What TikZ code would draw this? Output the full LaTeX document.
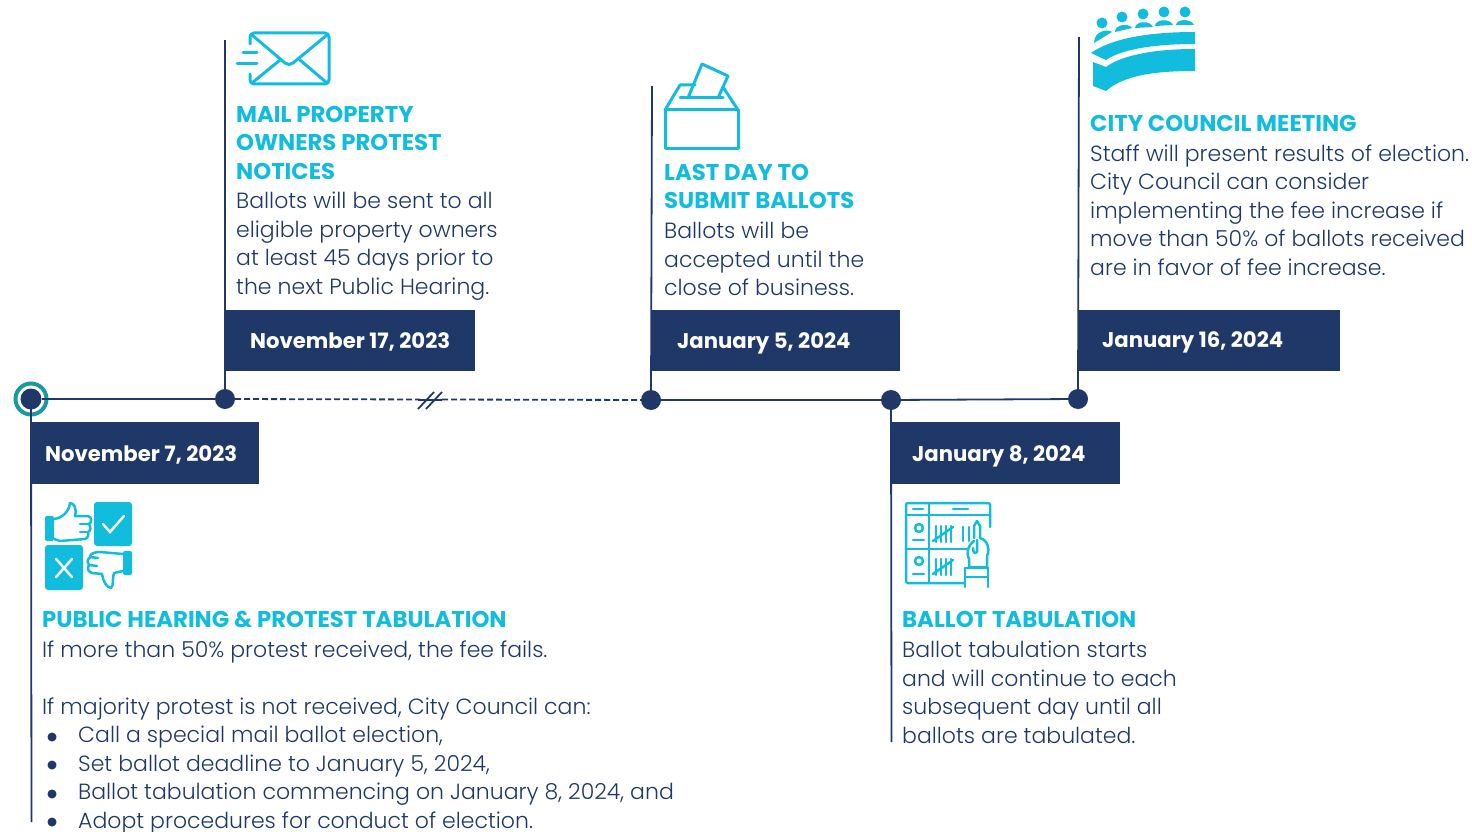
\documentclass[tikz,border=0pt]{standalone}
\usepackage{fontspec}
\usepackage{xcolor}
\setmainfont{Poppins Light}[BoldFont=Poppins Bold]
\newfontfamily\dejavu{DejaVu Sans}
\definecolor{navy}{HTML}{1F3868}
\definecolor{aqua}{HTML}{12BCDC}
\definecolor{ring}{HTML}{1A9A9E}
\tikzset{
	dot/.style={circle,fill=navy,draw=none,minimum size=20pt,inner sep=0pt},
	datebox/.style={fill=navy,draw=none,anchor=north west,inner sep=0pt},
	datetext/.style={anchor=base west,inner sep=0pt,text=white,font=\fontsize{21.2}{24}\selectfont\bfseries},
	headtext/.style={anchor=north west,inner sep=0pt,align=left,text=aqua,font=\fontsize{22.8}{28.4}\selectfont\bfseries},
	bodytext/.style={anchor=north west,inner sep=0pt,align=left,text=navy,font=\fontsize{22}{28.5}\selectfont},
	tline/.style={navy,line width=1.8pt},
	iconline/.style={aqua,line width=3pt,line join=round,line cap=round,fill=none},
	thinicon/.style={aqua,line width=2.5pt,line join=round,line cap=round,fill=none},
}
\newcommand{\bul}{\makebox[36pt][l]{\hspace{5pt}\raisebox{2.5pt}{\dejavu\fontsize{11.5}{12}\selectfont ●}}}
\begin{document}
\begin{tikzpicture}[x=1pt,y=-1pt]
	\useasboundingbox (0,0) rectangle (1472,832);
	% timeline
	\node (d0) at (31,399) [dot,minimum size=21pt] {};
	\node (d1) at (225,399) [dot] {};
	\node (d2) at (651,400) [dot] {};
	\node (d3) at (891,400) [dot] {};
	\node (d4) at (1078,399) [dot] {};
	\node (ring0) at (31,399) [circle,draw=ring,line width=4pt,minimum size=31pt,inner sep=0pt] {};
	\coordinate (t0) at (31.5,822);
	\coordinate (t1) at (225,40);
	\coordinate (t2) at (652,86);
	\coordinate (t3) at (891.5,742);
	\coordinate (t4) at (1079,37);
	\draw[tline] (d0) -- (d1);
	\draw[tline,dash pattern=on 6pt off 3pt] (d1) -- (d2);
	\draw[tline] (d2) -- (d3);
	\draw[tline] (d3) -- (d4);
	\draw[tline] (d0.center) -- (t0);
	\draw[tline] (d1.center) -- (t1);
	\draw[tline] (d2.center) -- (t2);
	\draw[tline] (d3.center) -- (t3);
	\draw[tline] (d4.center) -- (t4);
	% break mark
	\fill[white] (420,394) rectangle (440,406);
	\draw[navy,line width=1.8pt] (418,409) -- (434,392);
	\draw[navy,line width=1.8pt] (426,409) -- (442,392);
	\draw[tline] (418,400) -- (442,400);
	% date boxes
	\node (b0) at (31,422) [datebox,minimum width=228pt,minimum height=62pt] {};
	\node (b1) at (225,310) [datebox,minimum width=250pt,minimum height=61pt] {};
	\node (b2) at (652,310) [datebox,minimum width=248pt,minimum height=61pt] {};
	\node (b3) at (892,422) [datebox,minimum width=228pt,minimum height=62pt] {};
	\node (b4) at (1078,310) [datebox,minimum width=262pt,minimum height=61pt] {};
	\node (dt0) at (45,461) [datetext] {November 7, 2023};
	\node (dt1) at (250,348) [datetext] {November 17, 2023};
	\node (dt2) at (677,348) [datetext] {January 5, 2024};
	\node (dt3) at (912,461) [datetext] {January 8, 2024};
	\node (dt4) at (1102,347) [datetext] {January 16, 2024};
	% texts
	\node (h0) at (42,611) [headtext] {PUBLIC HEARING \& PROTEST TABULATION};
	\node (p0) at (42,640.5) [bodytext] {If more than 50\% protest received, the fee fails.\\[28.5pt]
		If majority protest is not received, City Council can:\\
		\bul Call a special mail ballot election,\\
		\bul Set ballot deadline to January 5, 2024,\\
		\bul Ballot tabulation commencing on January 8, 2024, and\\
		\bul Adopt procedures for conduct of election.};
	\node (h1) at (236,106) [headtext] {MAIL PROPERTY\\OWNERS PROTEST\\NOTICES};
	\node (p1) at (236,192) [bodytext] {Ballots will be sent to all\\eligible property owners\\at least 45 days prior to\\the next Public Hearing.};
	\node (h2) at (664,164) [headtext] {LAST DAY TO\\SUBMIT BALLOTS};
	\node (p2) at (664,222) [bodytext] {Ballots will be\\accepted until the\\close of business.};
	\node (h3) at (902,611) [headtext] {BALLOT TABULATION};
	\node (p3) at (902,641) [bodytext] {Ballot tabulation starts\\and will continue to each\\subsequent day until all\\ballots are tabulated.};
	\node (h4) at (1090,115) [headtext] {CITY COUNCIL MEETING};
	\node (p4) at (1090,144.5) [bodytext] {Staff will present results of election.\\City Council can consider\\implementing the fee increase if\\move than 50\% of ballots received\\are in favor of fee increase.};
	% envelope
	\draw[iconline] (250,44) -- (250,37) arc (180:270:4) -- (325,33) arc (270:360:4) -- (329,80) arc (0:90:4) -- (254,84) arc (90:180:4) -- (250,74);
	\draw[iconline] (252,35) -- (285,63) to[bend right=40] (293,63) -- (327,35);
	\draw[iconline] (252,83) -- (280,60);
	\draw[iconline] (327,83) -- (300,60);
	\draw[iconline] (243,53) -- (257,53);
	\draw[iconline] (237,64) -- (257,64);
	% ballot box
	\draw[iconline] (665,110) rectangle (738,149);
	\draw[iconline] (665,110) -- (680,85) -- (695,85);
	\draw[iconline] (723,87) -- (738,110);
	\draw[iconline] (680,98) -- (723,98);
	\draw[iconline] (688,98) -- (702,64) -- (728,76) -- (718,98);
	% council
	\foreach \hx/\hy/\lx/\ly/\rx/\ry in {1102/23/1094/43/1112/32,1122/17/1115/32/1132/28,1143/14/1135/28/1153/27,1164/12/1155/26/1173/25,1185/12/1176/25/1194/25}{
		\fill[aqua] (\hx,\hy) circle (5.5pt);
		\fill[aqua] (\lx,\ly) .. controls (\lx,\hy+7) and (\rx-3,\hy+6) .. (\rx,\ry) -- cycle;
	}
	\fill[aqua] (1091,53) .. controls (1112,38) and (1150,32) .. (1195,32) -- (1195,44) .. controls (1155,44) and (1122,49) .. (1106,60) -- cycle;
	\fill[aqua] (1093,62) -- (1106,67) .. controls (1122,55) and (1155,49) .. (1195,49) -- (1195,71) .. controls (1160,71) and (1125,74) .. (1106,91) -- (1093,86) -- cycle;
	% vote icon
	\fill[aqua,rounded corners=3pt] (94,502) rectangle (132,546);
	\fill[aqua,rounded corners=3pt] (45,545) rectangle (83,590);
	\draw[white,line width=2.4pt,line cap=round] (103,524) -- (110,532) -- (124,516);
	\draw[white,line width=2.4pt,line cap=round] (56,559) -- (72,577);
	\draw[white,line width=2.4pt,line cap=round] (72,559) -- (56,577);
	\fill[aqua,rounded corners=2pt] (45,516) rectangle (54,541);
	\fill[aqua,rounded corners=2pt] (123,551) rectangle (132,575);
	\draw[thinicon] (54,519) .. controls (62,518) and (69,512) .. (70,503) .. controls (74,503) and (77,508) .. (75,516) -- (88,516) .. controls (92,517) and (92,522) .. (89,524) .. controls (91,527) and (91,531) .. (88,532) .. controls (89,535) and (88,538) .. (85,539) -- (60,541) -- (54,539);
	\draw[thinicon] (80,524) -- (89,524) (80,532) -- (88,532);
	\draw[thinicon] (123,554) -- (100,552) .. controls (96,552) and (90,553) .. (90,557) .. controls (87,560) and (87,563) .. (89,565) .. controls (87,568) and (88,572) .. (92,573) -- (102,574) .. controls (103,581) and (106,587) .. (111,588) .. controls (114,586) and (112,578) .. (114,573) -- (123,571);
	\draw[thinicon] (90,557) -- (98,558) (89,565) -- (97,566);
	% tally icon
	\draw[thinicon,rounded corners=2pt] (965,583) -- (906,583) -- (906,503) -- (990,503) -- (990,527);
	\draw[thinicon] (906,515) -- (990,515);
	\draw[thinicon] (929,503) -- (929,583);
	\draw[thinicon] (906,549) -- (968,549);
	\draw[thinicon] (913,509) -- (923,509);
	\draw[thinicon] (953,509) -- (968,509);
	\draw[thinicon] (919,528) circle (4pt);
	\draw[thinicon] (919,561) circle (4pt);
	\draw[thinicon] (913,540) -- (924,540);
	\draw[thinicon] (913,574) -- (924,574);
	\foreach \tx in {936,941,946,951}{
		\draw[thinicon] (\tx,526) -- (\tx,542);
		\draw[thinicon] (\tx,559) -- (\tx,575);
	}
	\draw[thinicon] (933,541) -- (953,527);
	\draw[thinicon] (933,574) -- (953,560);
	\draw[thinicon] (963,527) -- (963,541);
	\draw[thinicon] (969,527) -- (969,541);
	\draw[thinicon] (974,538) -- (974,526) -- (977,521) -- (980,526) -- (980,538);
	\draw[thinicon] (974,541) .. controls (968,545) and (966,552) .. (969,559) -- (969,567) -- (987,567) -- (987,556) .. controls (990,550) and (988,540) .. (980,538);
	\draw[thinicon] (977,540) -- (977,552) .. controls (975,554) and (973,553) .. (973,548);
	\draw[thinicon] (965,568) -- (988,568);
	\draw[thinicon] (965,568) -- (965,587);
	\draw[thinicon] (988,568) -- (988,587);
	\draw[thinicon] (965,577) -- (988,577);
\end{tikzpicture}
\end{document}
